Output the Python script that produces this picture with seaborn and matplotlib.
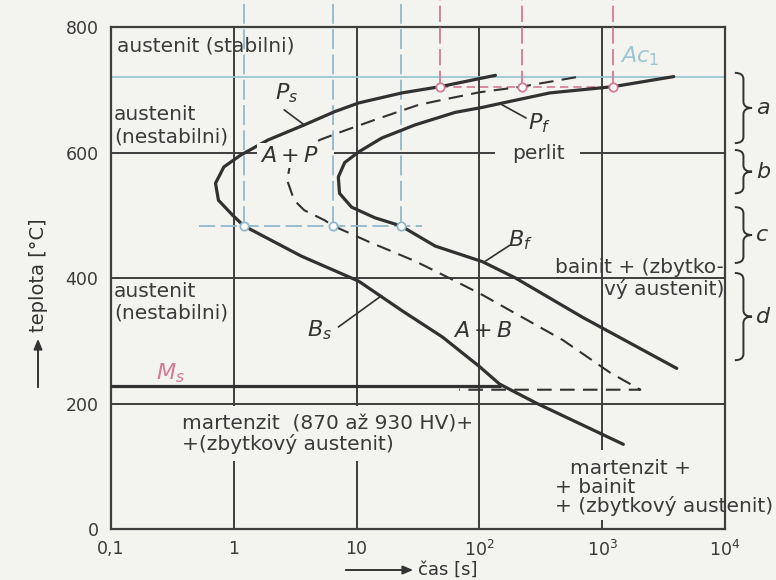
import matplotlib
matplotlib.use("Agg")
import matplotlib.pyplot as plt
import matplotlib.transforms as mtransforms
from matplotlib.path import Path
from matplotlib.patches import PathPatch, FancyArrowPatch
import pandas as pd
import seaborn as sns

# --- transformation curves (time in s, temperature in degC) ---
ps_bs_time = [135, 48, 23.4, 10.4, 6.6, 3.75, 1.90, 1.14, 0.83, 0.71, 0.75, 0.98, 1.21,
              3.54, 10.4, 23.4, 50, 100, 146, 288, 1486]
ps_bs_temp = [723, 705, 695, 679, 665, 644, 620, 596, 577, 551, 524, 500, 483,
              435, 395, 348, 306, 259, 231, 201, 135]

half_time = [612, 221, 100, 50, 32, 14, 7.5, 5.0, 3.6, 2.85, 2.72, 3.1, 3.75, 5.5, 6.47,
             12.5, 29.9, 56.8, 106, 479, 1164, 2046, 68.5]
half_temp = [720, 705, 696, 684, 676, 652, 633, 620, 600, 577, 556, 524, 508, 492, 483,
             458, 427, 400, 373, 301, 249, 222, 222]

pf_bf_time = [3820, 1230, 375, 155, 106, 63.5, 29.9, 16.0, 10.4, 8.0, 7.1, 7.26, 9.1, 14.1,
              23.0, 43.6, 106, 197, 698, 4046]
pf_bf_temp = [721, 705, 695, 679, 672, 664, 644, 623, 601, 584, 561, 535, 513, 496,
              483, 451, 426, 400, 337, 256]

ms_temp = 228
ms_end_time = 146
ac1_temp = 721

# construction points
blue_temp = 483
blue_times = [1.21, 6.47, 23.0]
blue_span = [0.52, 34]
red_temp = 705
red_times = [48, 221, 1230]

# axis ticks
x_ticks = [0.1, 1, 10, 100, 1000, 10000]
x_tick_labels = ["0,1", "1", "10", "$10^2$", "$10^3$", "$10^4$"]
y_ticks = [0, 200, 400, 600, 800]

# temperature ranges marked by braces on the right
brace_labels = ["a", "b", "c", "d"]
brace_tops = [727, 604, 513, 408]
brace_bottoms = [615, 535, 424, 269]

BG = "#f3f3f0"
INK = "#313131"
GRID = "#3e3e3e"
BLUE = "#93b8cb"
AC1 = "#9cc6d4"
PINK = "#d47a94"

sns.set_style("white")
plt.rcParams["font.family"] = ["DejaVu Sans"]
plt.rcParams["mathtext.fontset"] = "dejavusans"

fig = plt.figure(figsize=(7.76, 5.80), dpi=100, facecolor=BG)
ax = fig.add_axes([0.1430, 0.0879, 0.7913, 0.8655])
ax.set_facecolor(BG)
ax.set_xscale("log")
ax.set_xlim(0.1, 10000)
ax.set_ylim(0, 800)

# grid lines, left open where the labels sit
grid_kw = dict(color=GRID, lw=1.4, zorder=1, solid_capstyle="butt")
for t in [1, 10]:
    ax.plot([t, t], [0, 109], **grid_kw)
    ax.plot([t, t], [196, 800], **grid_kw)
ax.plot([100, 100], [0, 800], **grid_kw)
ax.plot([1000, 1000], [0, 15], **grid_kw)
ax.plot([1000, 1000], [126, 800], **grid_kw)
ax.plot([0.1, 10000], [200, 200], **grid_kw)
ax.plot([0.1, 10000], [400, 400], **grid_kw)
ax.plot([0.1, 1.66], [600, 600], **grid_kw)
ax.plot([6.6, 135], [600, 600], **grid_kw)
ax.plot([661, 10000], [600, 600], **grid_kw)
ax.axhline(ac1_temp, color=AC1, lw=1.3, zorder=1)

curves = pd.concat([
    pd.DataFrame({"t": ps_bs_time, "T": ps_bs_temp, "curve": "start"}),
    pd.DataFrame({"t": half_time, "T": half_temp, "curve": "half"}),
    pd.DataFrame({"t": pf_bf_time, "T": pf_bf_temp, "curve": "finish"}),
])

for name in ["start", "finish"]:
    sns.lineplot(data=curves[curves.curve == name], x="t", y="T", sort=False,
                 estimator=None, color=INK, lw=2.3, ax=ax, zorder=4,
                 solid_joinstyle="round", solid_capstyle="round")
sns.lineplot(data=curves[curves.curve == "half"], x="t", y="T", sort=False,
             estimator=None, color=INK, lw=1.5, ax=ax, zorder=4,
             linestyle=(0, (7, 4)))

ms_df = pd.DataFrame({"t": [0.1, ms_end_time], "T": [ms_temp, ms_temp]})
sns.lineplot(data=ms_df, x="t", y="T", color=INK, lw=2.3, ax=ax, zorder=4)

# construction lines
ax.plot(blue_span, [blue_temp, blue_temp], color=BLUE, lw=1.3, ls=(0, (9, 3)), zorder=3)
for t in blue_times:
    ax.plot([t, t], [blue_temp, 843], color=BLUE, lw=1.3, ls=(0, (11, 3)),
            zorder=3, clip_on=False)
ax.plot([red_times[0], red_times[-1]], [red_temp, red_temp], color=PINK, lw=1.2,
        ls=(0, (5, 3)), zorder=3)
for t in red_times:
    ax.plot([t, t], [red_temp, 843], color=PINK, lw=1.3, ls=(0, (9, 3)),
            zorder=3, clip_on=False)
ax.scatter(blue_times, [blue_temp] * len(blue_times), s=36, facecolor="white",
           edgecolor=BLUE, lw=1.3, zorder=6)
ax.scatter(red_times, [red_temp] * len(red_times), s=36, facecolor="white",
           edgecolor=PINK, lw=1.3, zorder=6)

for side in ax.spines.values():
    side.set_color(GRID)
    side.set_linewidth(1.6)

ax.set_xticks(x_ticks)
ax.set_xticklabels(x_tick_labels)
ax.set_yticks(y_ticks)
ax.set_yticklabels([str(v) for v in y_ticks])
ax.minorticks_off()
ax.tick_params(length=0, labelsize=12.5, colors="#3a3a3a")
ax.tick_params(axis="y", pad=9)
ax.tick_params(axis="x", pad=8)
ax.set_xlabel("")
ax.set_ylabel("")

txt = dict(color="#3a3a3a", fontsize=14.5, zorder=7)

ax.text(0.112, 770, "austenit (stabilni)", va="center", **txt)
ax.text(0.106, 643, "austenit\n(nestabilni)", va="center", linespacing=1.2, **txt)
ax.text(0.106, 361, "austenit\n(nestabilni)", va="center", linespacing=1.2, **txt)
ax.text(300, 599, "perlit", ha="center", va="center", **txt)
ax.text(9817, 416, "bainit + (zbytko-", ha="right", va="center", **txt)
ax.text(9817, 383, "vý austenit)", ha="right", va="center", **txt)
ax.text(0.382, 167, "martenzit  (870 až 930 HV)+", va="center", **txt)
ax.text(0.382, 136, "+(zbytkový austenit)", va="center", **txt)
ax.text(547, 96, "martenzit +", va="center", **txt)
ax.text(410, 66, "+ bainit", va="center", **txt)
ax.text(410, 36, "+ (zbytkový austenit)", va="center", **txt)

lab = dict(color="#333333", fontsize=16, zorder=7)
ax.text(2.82, 595, "$A+P$", ha="center", va="center",
        bbox=dict(boxstyle="square,pad=0.1", facecolor=BG, edgecolor="none"), **lab)
ax.text(106, 315, "$A+B$", ha="center", va="center", **lab)
ax.text(2.67, 694, "$P_s$", ha="center", va="center", **lab)
ax.text(309, 647, "$P_f$", ha="center", va="center", **lab)
ax.text(4.98, 317, "$B_s$", ha="center", va="center", **lab)
ax.text(217, 460, "$B_f$", ha="center", va="center", **lab)
ax.text(0.305, 248, "$M_s$", ha="center", va="center", color=PINK, fontsize=16, zorder=7)
ax.text(1406, 754, "$Ac_1$", ha="left", va="center", color=AC1, fontsize=16, zorder=7)

# leader lines from labels to curves
for (t0, T0), (t1, T1) in [((2.57, 668), (3.75, 644)),
                          ((150, 677), (240, 655)),
                          ((7.11, 322), (16.0, 372)),
                          ((112, 427), (176, 452))]:
    ax.plot([t0, t1], [T0, T1], color=INK, lw=1.2, zorder=5)


def brace(ax, top, bottom, x0=1.016, w=0.028, color=INK):
    trans = mtransforms.blended_transform_factory(ax.transAxes, ax.transData)
    mid = (top + bottom) / 2
    d = min(10, (top - bottom) / 5)
    xm = x0 + w / 2
    verts = [(x0, top), (xm, top), (xm, top - d), (xm, mid + d),
             (xm, mid), (x0 + w, mid), (xm, mid), (xm, mid - d),
             (xm, bottom + d), (xm, bottom), (x0, bottom)]
    codes = [Path.MOVETO, Path.CURVE3, Path.CURVE3, Path.LINETO,
             Path.CURVE3, Path.CURVE3, Path.CURVE3, Path.CURVE3,
             Path.LINETO, Path.CURVE3, Path.CURVE3]
    ax.add_patch(PathPatch(Path(verts, codes), transform=trans, fill=False,
                           edgecolor=color, lw=1.4, clip_on=False))


trans_r = mtransforms.blended_transform_factory(ax.transAxes, ax.transData)
for label, top, bottom in zip(brace_labels, brace_tops, brace_bottoms):
    brace(ax, top, bottom)
    ax.text(1.050, (top + bottom) / 2, label, transform=trans_r, ha="left",
            va="center", style="italic", fontsize=16, color="#333333", clip_on=False)

# axis titles with arrows
fig.text(38 / 776, 1 - 275 / 580, "teplota [°C]", rotation=90, ha="center",
         va="center", fontsize=14, color="#333333")
fig.add_artist(FancyArrowPatch(
    (38 / 776, 1 - 390 / 580), (38 / 776, 1 - 336 / 580), transform=fig.transFigure,
    arrowstyle="-|>,head_length=6,head_width=2.5", color="#333333", lw=1.4))
fig.text(418 / 776, 1 - 570 / 580, "čas [s]", ha="left", va="center",
         fontsize=13, color="#333333")
fig.add_artist(FancyArrowPatch(
    (343 / 776, 1 - 570 / 580), (416 / 776, 1 - 570 / 580), transform=fig.transFigure,
    arrowstyle="-|>,head_length=6,head_width=2.5", color="#333333", lw=1.4))

fig.savefig("out.png", dpi=100, facecolor=BG)
